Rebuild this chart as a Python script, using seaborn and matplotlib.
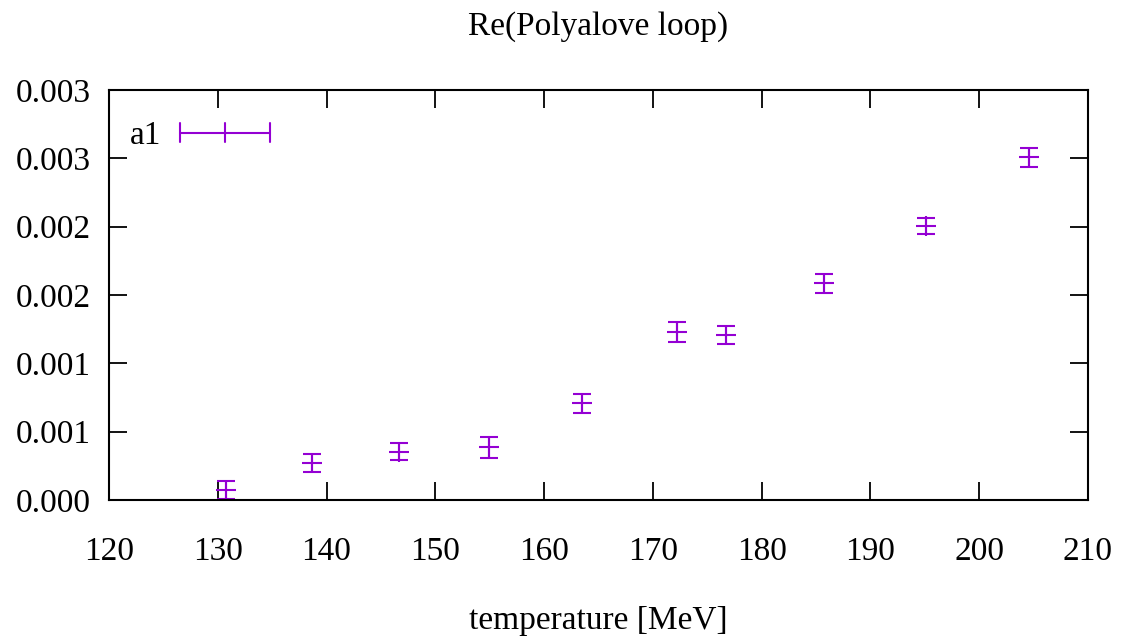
import numpy as np
import pandas as pd
import matplotlib
matplotlib.use("Agg")
import matplotlib.pyplot as plt
from matplotlib.lines import Line2D
from matplotlib.legend_handler import HandlerBase
import seaborn as sns

# ---- data ----
temperature = [130.8, 138.7, 146.7, 154.95, 163.5, 172.2, 176.7, 185.75, 195.1, 204.6]
re_loop = [0.000073, 0.000273, 0.000353, 0.000385, 0.000707, 0.001227, 0.001209, 0.001585, 0.002004, 0.002507]
re_err = [0.000065, 0.000066, 0.000061, 0.000077, 0.000067, 0.000074, 0.000066, 0.000067, 0.000056, 0.000067]
x_ticks = [120, 130, 140, 150, 160, 170, 180, 190, 200, 210]
y_ticks = [0.0, 0.0005, 0.001, 0.0015, 0.002, 0.0025, 0.003]
y_tick_labels = ["0.000", "0.001", "0.001", "0.002", "0.002", "0.003", "0.003"]
series_label = "a1"
title = "Re(Polyalove loop)"
xlabel = "temperature [MeV]"

df = pd.DataFrame({"T": temperature, "val": re_loop, "err": re_err})

sns.set_theme(style="ticks")
plt.rcParams["font.family"] = ["Liberation Serif", "DejaVu Serif"]
plt.rcParams["text.color"] = "black"
plt.rcParams["axes.labelcolor"] = "black"
plt.rcParams["xtick.color"] = "black"
plt.rcParams["ytick.color"] = "black"

color = "#9400D3"
fs = 24
lw = 1.5


class HandlerXErr(HandlerBase):
    """gnuplot-like key sample: horizontal error bar with caps and centre tick."""
    def create_artists(self, legend, orig_handle, xdescent, ydescent,
                       width, height, fontsize, trans):
        y = (height - ydescent) / 2.0
        x0, x1 = -xdescent, -xdescent + width
        xc = (x0 + x1) / 2.0
        h = 6.8
        arts = [
            Line2D([x0, x1], [y, y], color=color, lw=lw),
            Line2D([x0, x0], [y - h, y + h], color=color, lw=lw),
            Line2D([x1, x1], [y - h, y + h], color=color, lw=lw),
            Line2D([xc, xc], [y - h, y + h], color=color, lw=lw),
        ]
        for a in arts:
            a.set_transform(trans)
        return arts


fig = plt.figure(figsize=(11.24, 6.36), dpi=100)
ax = fig.add_axes([109 / 1124, (636 - 500) / 636, 979 / 1124, 410 / 636])

ax.errorbar(df["T"], df["val"], yerr=df["err"], fmt="none", ecolor=color,
            elinewidth=lw, capsize=6.8, capthick=lw)
sns.scatterplot(data=df, x="T", y="val", ax=ax, marker="+", s=190,
                color=color, linewidth=lw, legend=False)

proxy = Line2D([], [], color=color, label=series_label)
leg = ax.legend(handles=[proxy], labels=[series_label],
                handler_map={Line2D: HandlerXErr()},
                loc="upper left", bbox_to_anchor=(0.0215, 0.925),
                borderaxespad=0, borderpad=0, frameon=False,
                markerfirst=False, handlelength=2.7, handletextpad=0.55,
                fontsize=fs)

ax.set_xlim(120, 210)
ax.set_ylim(0, 0.003)
ax.set_xticks(x_ticks)
ax.set_xticklabels([str(t) for t in x_ticks])
ax.set_yticks(y_ticks)
ax.set_yticklabels(y_tick_labels)

ax.tick_params(axis="both", direction="in", length=12.7, width=1.3,
               labelsize=fs, top=True, right=True, color="black",
               labelcolor="black")
ax.tick_params(axis="x", pad=26)
ax.tick_params(axis="y", pad=13)
for s in ax.spines.values():
    s.set_visible(True)
    s.set_linewidth(1.5)
    s.set_color("black")

ax.set_title(title, fontsize=fs, pad=40, color="black")
ax.set_xlabel(xlabel, fontsize=fs, labelpad=28, color="black")
ax.set_ylabel("")

fig.savefig("out.png", dpi=100)
